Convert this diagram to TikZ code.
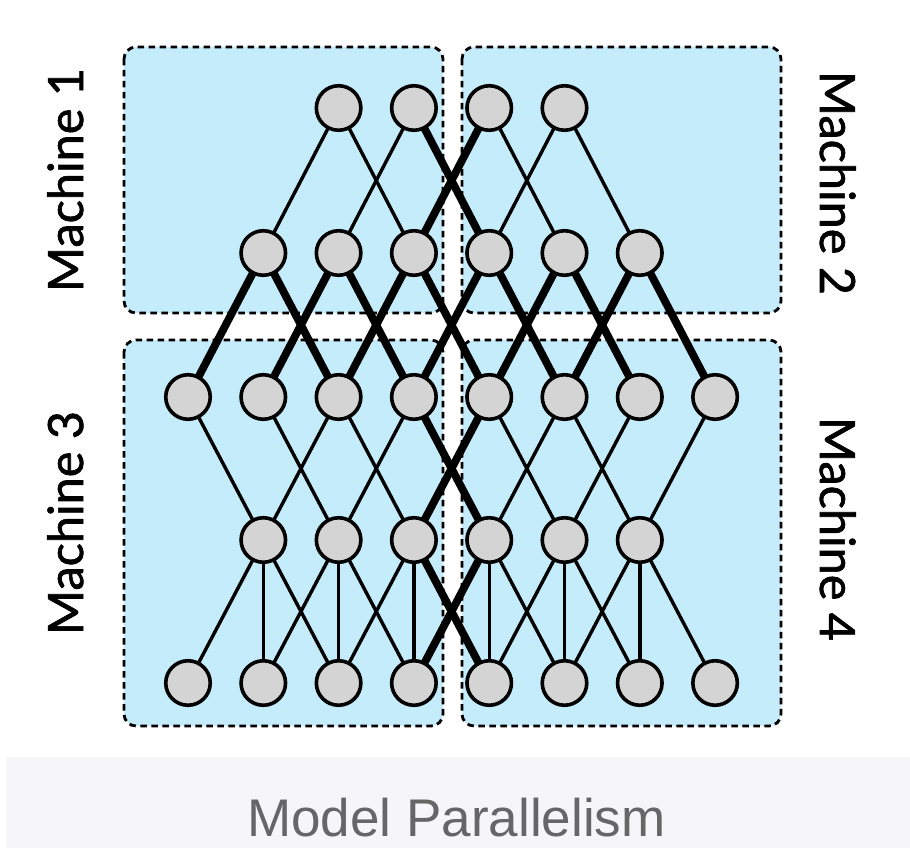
\documentclass[tikz,border=0pt]{standalone}
\usepackage{fontspec}
\newfontfamily\labelfont[FakeBold=1.4]{Lato}
\newfontfamily\captionfont{Liberation Sans}
\usetikzlibrary{backgrounds}
\pgfdeclarelayer{edges}
\pgfsetlayers{background,edges,main}

\definecolor{boxblue}{RGB}{197,236,251}
\definecolor{unitgray}{RGB}{212,212,212}
\definecolor{bandgray}{RGB}{246,245,248}
\definecolor{captiongray}{RGB}{102,102,102}

\tikzset{
  unit/.style={circle, draw=black, line width=3.6, fill=unitgray, minimum size=44.5, inner sep=0},
  machinebox/.style={draw=black, line width=2.8, dash pattern=on 6.5 off 4.5, rounded corners=12, fill=boxblue},
  thinlink/.style={line width=3.4, black},
  thicklink/.style={line width=7.8, black},
  machinelabel/.style={font=\labelfont\fontsize{48.6}{58}\selectfont, anchor=base, inner sep=0},
}

\begin{document}
\begin{tikzpicture}[x=1pt, y=-1pt]
\useasboundingbox (0,0) rectangle (910,848);

% page and machine partitions, below everything else
\begin{pgfonlayer}{background}
\fill[white] (0,0) rectangle (910,848);
\fill[bandgray] (6,757) rectangle (910,848);
\draw[machinebox] (124,47) rectangle (443,313);
\draw[machinebox] (462,47) rectangle (781,313);
\draw[machinebox] (124,340) rectangle (443,726);
\draw[machinebox] (462,340) rectangle (781,726);
\end{pgfonlayer}

% layers of units
\def\colx#1{188+75.3*#1}
\foreach \c in {2,...,5} \node[unit] (n0\c) at ({\colx{\c}},108) {};
\foreach \c in {1,...,6} \node[unit] (n1\c) at ({\colx{\c}},253) {};
\foreach \c in {0,...,7} \node[unit] (n2\c) at ({\colx{\c}},397) {};
\foreach \c in {1,...,6} \node[unit] (n3\c) at ({\colx{\c}},540) {};
\foreach \c in {0,...,7} \node[unit] (n4\c) at ({\colx{\c}},683) {};

% connections: thick ones cross a machine boundary
\begin{pgfonlayer}{edges}
\foreach \a/\b in {02/11,02/13,03/12,04/15,05/14,05/16,
                   20/31,22/31,21/32,23/32,22/33,25/34,24/35,26/35,25/36,27/36,
                   31/40,31/41,31/42,32/41,32/42,32/43,33/42,33/43,
                   34/44,34/45,35/44,35/45,35/46,36/45,36/46,36/47}
  \draw[thinlink] (n\a.center) -- (n\b.center);
\foreach \a/\b in {03/14,04/13,
                   11/20,11/22,12/21,12/23,13/22,13/24,14/23,14/25,15/24,15/26,16/25,16/27,
                   24/33,23/34,33/44,34/43}
  \draw[thicklink] (n\a.center) -- (n\b.center);
\end{pgfonlayer}

% machine names
\node[machinelabel, rotate=90] (m1) at (83,180) {Machine 1};
\node[machinelabel, rotate=-90] (m2) at (820,183) {Machine 2};
\node[machinelabel, rotate=90] (m3) at (83,523) {Machine 3};
\node[machinelabel, rotate=-90] (m4) at (820,529) {Machine 4};

% caption
\node[font=\captionfont\fontsize{53}{60}\selectfont, text=captiongray, anchor=base, inner sep=0] (cap) at (456.5,836) {Model Parallelism};
\end{tikzpicture}
\end{document}
